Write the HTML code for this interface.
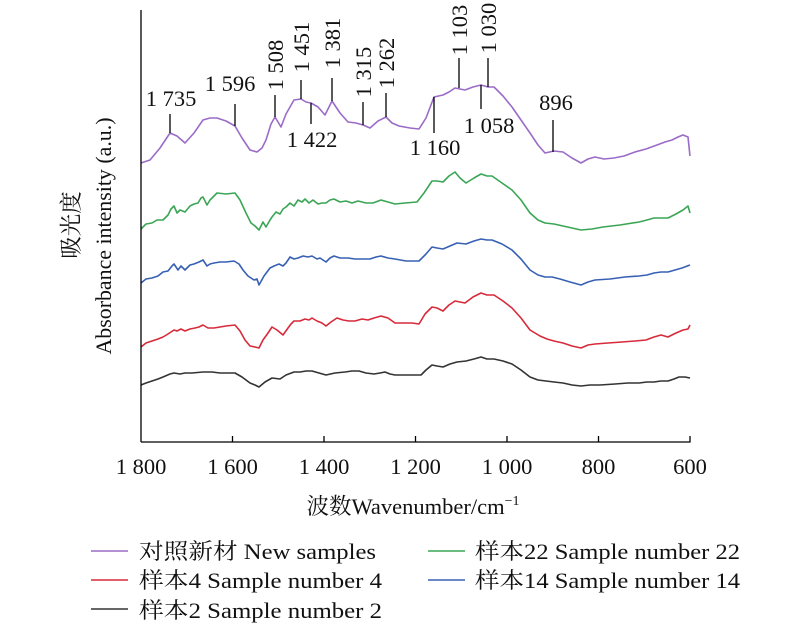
<!DOCTYPE html>
<html><head><meta charset="utf-8"><style>
html,body{margin:0;padding:0;background:#fff;}
svg{display:block;font-family:"Liberation Serif","Noto Serif CJK SC","Noto Sans CJK SC",serif;}
</style></head><body>
<svg width="800" height="631" viewBox="0 0 800 631" xmlns="http://www.w3.org/2000/svg">
<g fill="none" stroke-width="1.6" stroke-linejoin="round">
<polyline stroke="#9b6cc7" points="141,163 150,160 160,148 170,133 177,136 185,143 194,133 203,120 210,118 217,118 226,121 235,126 242,138 250,150 257,152 262,148 266,140 271,124 275,117 281,127 286,114 294,100 301,99 306,102 311,103 318,107 325,115 329,107 332,101 340,113 348,122 356,123 363,125 370,128 378,121 386,117 392,123 399,126 410,128 419,129 426,118 434,97 443,95 449,92 455,88 460,89 465,90 473,87 481,85 488,87 494,87 503,96 512,107 521,120 530,133 538,145 545,153 554,151 563,152 572,158 581,163 588,159 595,157 604,159 614,158 624,156 635,152 646,149 657,145 665,142 672,140 678,137 683,135 688,137 690,156"/>
<polyline stroke="#3aa655" points="141,229 146,224 152,223 157,220 163,220 168,215 171,209 174,206 177,213 180,210 185,212 190,206 194,204 198,203 201,198 203,197 207,205 210,200 214,196 217,193 226,194 235,193 240,200 246,213 251,223 255,226 259,230 263,222 266,227 270,220 272,217 276,212 280,214 283,209 286,207 290,203 294,206 298,200 302,202 305,199 309,203 313,200 318,204 322,203 326,203 330,200 334,199 340,202 346,201 352,203 358,201 366,203 373,203 381,200 388,202 395,204 405,203 417,202 424,193 432,181 437,181 443,182 449,176 455,172 460,178 466,183 474,178 481,174 487,176 492,176 502,183 512,190 521,200 530,213 538,220 545,223 554,224 563,226 572,228 581,230 592,229 603,227 620,225 639,222 647,220 654,218 661,218 668,218 676,214 683,210 688,206 690,213"/>
<polyline stroke="#3760b5" points="141,283 146,279 152,278 158,276 163,272 168,271 172,266 174,264 178,270 181,266 185,270 190,265 194,264 199,262 203,260 207,266 210,264 214,263 220,262 226,262 234,261 239,264 243,270 248,276 254,280 257,279 259,285 264,276 270,268 274,266 279,264 283,266 286,263 290,257 294,259 298,258 303,256 308,257 312,256 317,259 320,258 326,262 330,258 334,256 340,258 348,258 355,259 363,259 370,259 376,257 381,256 388,258 395,259 406,261 419,261 426,254 432,247 437,248 443,249 450,246 457,243 466,244 474,241 481,239 487,240 492,240 502,244 512,250 521,259 530,270 538,275 545,277 552,277 560,279 570,282 581,285 588,282 595,280 610,279 625,277 639,276 647,275 654,273 661,272 668,272 675,270 682,268 690,265"/>
<polyline stroke="#d72a3b" points="141,347 146,343 152,341 158,339 163,337 168,334 171,332 174,330 177,331 181,329 185,331 190,329 195,328 199,327 203,325 208,328 214,328 220,327 226,326 235,325 240,331 245,340 250,346 255,347 259,348 263,340 268,333 272,327 277,330 283,335 288,328 291,324 294,321 300,321 305,319 309,320 312,318 317,321 322,323 326,326 331,322 337,318 343,320 349,321 355,321 362,319 368,320 374,318 381,316 388,318 395,323 405,323 412,323 419,324 425,314 432,307 437,308 443,311 449,305 455,301 460,302 465,303 473,297 481,293 487,295 494,295 503,301 512,308 521,318 530,330 540,336 547,339 554,341 563,343 572,346 581,348 588,345 595,344 608,343 622,342 635,341 646,340 654,337 661,335 668,337 676,333 683,330 688,329 690,325"/>
<polyline stroke="#333333" points="141,385 146,383 152,381 158,379 163,377 170,374 174,373 180,374 185,373 192,373 203,372 212,372 220,373 228,373 235,373 242,377 250,383 255,385 259,387 265,382 272,378 280,379 286,375 294,372 300,372 306,371 312,371 319,373 326,375 335,373 345,372 352,371 359,371 366,373 374,374 380,373 385,372 390,374 395,375 405,375 413,375 421,375 426,370 432,365 437,366 443,367 450,364 457,362 466,361 474,359 481,357 487,359 494,359 503,361 512,364 521,370 530,377 538,380 546,381 554,382 563,383 572,385 581,386 590,385 600,385 615,384 628,383 639,383 647,382 654,382 661,381 668,381 674,379 679,377 685,377 690,378"/>
</g>
<g stroke="#000" stroke-width="1.3" fill="none">
<line x1="141" y1="10" x2="141" y2="442"/>
<line x1="141" y1="442" x2="690.5" y2="442"/>
<line x1="232.5" y1="442" x2="232.5" y2="436"/>
<line x1="324" y1="442" x2="324" y2="436"/>
<line x1="415.5" y1="442" x2="415.5" y2="436"/>
<line x1="507" y1="442" x2="507" y2="436"/>
<line x1="598.5" y1="442" x2="598.5" y2="436"/>
<line x1="690" y1="442" x2="690" y2="436"/>
<line x1="170" y1="114" x2="170" y2="133"/>
<line x1="235" y1="104" x2="235" y2="126"/>
<line x1="275" y1="95" x2="275" y2="117"/>
<line x1="301" y1="80" x2="301" y2="99"/>
<line x1="332" y1="78" x2="332" y2="101"/>
<line x1="363" y1="102" x2="363" y2="125"/>
<line x1="386" y1="93" x2="386" y2="117"/>
<line x1="459" y1="58" x2="459" y2="88"/>
<line x1="488" y1="58" x2="488" y2="87"/>
<line x1="311" y1="103" x2="311" y2="124"/>
<line x1="481" y1="85" x2="481" y2="109"/>
<line x1="434" y1="97" x2="434" y2="133"/>
<line x1="553" y1="120" x2="553" y2="152"/>
</g>
<g font-size="22.5" fill="#111" text-anchor="middle">
<text x="171" y="106">1 735</text>
<text x="230" y="91">1 596</text>
<text x="312" y="147">1 422</text>
<text x="489" y="133">1 058</text>
<text x="435" y="155">1 160</text>
<text x="556" y="110">896</text>
<text transform="translate(283,65) rotate(-90)">1 508</text>
<text transform="translate(309,47) rotate(-90)">1 451</text>
<text transform="translate(340,43) rotate(-90)">1 381</text>
<text transform="translate(371,72) rotate(-90)">1 315</text>
<text transform="translate(394,63) rotate(-90)">1 262</text>
<text transform="translate(467,30) rotate(-90)">1 103</text>
<text transform="translate(496,28) rotate(-90)">1 030</text>
<text x="141" y="474">1 800</text>
<text x="232.5" y="474">1 600</text>
<text x="324" y="474">1 400</text>
<text x="415.5" y="474">1 200</text>
<text x="507" y="474">1 000</text>
<text x="598.5" y="474">800</text>
<text x="690" y="474">600</text>
<text x="413" y="514">波数Wavenumber/cm<tspan font-size="14" dy="-9">−1</tspan></text>
<text transform="translate(79,225) rotate(-90)">吸光度</text>
<text transform="translate(111,236) rotate(-90)" textLength="237" lengthAdjust="spacingAndGlyphs">Absorbance intensity (a.u.)</text>
</g>
<g stroke-width="1.6">
<line x1="91" y1="551" x2="128" y2="551" stroke="#9b6cc7"/>
<line x1="91" y1="580" x2="128" y2="580" stroke="#d72a3b"/>
<line x1="91" y1="609" x2="128" y2="609" stroke="#333"/>
<line x1="428" y1="551" x2="465" y2="551" stroke="#3aa655"/>
<line x1="428" y1="580" x2="465" y2="580" stroke="#3760b5"/>
</g>
<g font-size="22" fill="#111">
<text x="139" y="559" textLength="237" lengthAdjust="spacingAndGlyphs">对照新材 New samples</text>
<text x="139" y="588" textLength="243" lengthAdjust="spacingAndGlyphs">样本4 Sample number 4</text>
<text x="139" y="618" textLength="243" lengthAdjust="spacingAndGlyphs">样本2 Sample number 2</text>
<text x="475" y="559" textLength="265" lengthAdjust="spacingAndGlyphs">样本22 Sample number 22</text>
<text x="475" y="588" textLength="265" lengthAdjust="spacingAndGlyphs">样本14 Sample number 14</text>
</g>
</svg>
</body></html>
